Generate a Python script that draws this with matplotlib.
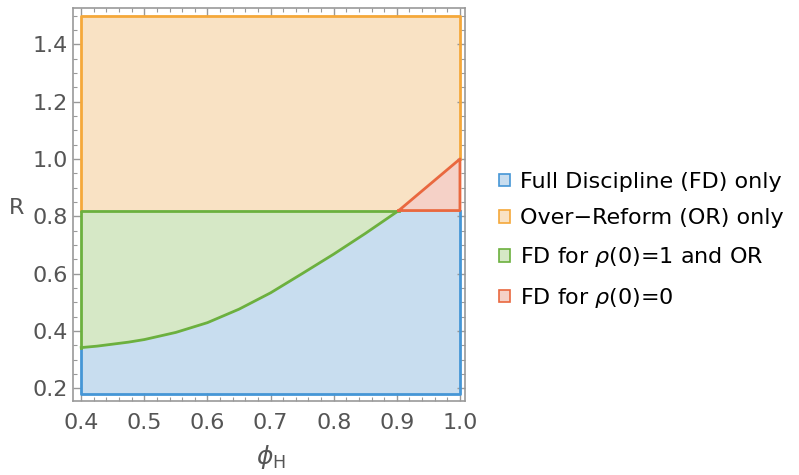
"""Region plot: Full Discipline vs Over-Reform."""
import matplotlib
matplotlib.use("Agg")
from matplotlib import pyplot as plt
from matplotlib.patches import Patch
from matplotlib.ticker import MultipleLocator

# Boundary curve between FD-only and FD/OR region
phi = [0.4, 0.425, 0.45, 0.475, 0.5, 0.55, 0.6, 0.65, 0.7, 0.75, 0.8, 0.85, 0.903]
r_curve = [0.342, 0.347, 0.354, 0.361, 0.370, 0.395, 0.429, 0.476, 0.533, 0.600,
           0.668, 0.740, 0.82]

r_min, r_max = 0.18, 1.5
r_split = 0.82
phi_max = 1.0
red_phi = [0.903, 1.0]
red_top = [0.82, 1.0]

labels = ['Full Discipline (FD) only', 'Over\u2212Reform (OR) only',
          r'FD for $\rho$(0)=1 and OR', r'FD for $\rho$(0)=0']
fills = ['#c8ddef', '#f9e2c4', '#d6e8c6', '#f5d1c7']
edges = ['#4596d6', '#f5a83a', '#6cb03e', '#e9683f']

plt.rcParams['font.family'] = ['DejaVu Sans']
plt.rcParams['mathtext.fontset'] = 'dejavusans'

fig = plt.figure(figsize=(7.99, 4.75), dpi=100)
ax = fig.add_axes([0.0914, 0.156, 0.4906, 0.828])

lw = 2.0
# Full Discipline only
bx = phi + [phi_max]
by = r_curve + [r_split]
ax.fill_between(bx, r_min, by, facecolor=fills[0], edgecolor='none')
ax.plot([phi[0], phi[0], phi_max, phi_max], [r_curve[0], r_min, r_min, r_split],
        color=edges[0], lw=lw)

# Over-Reform only
ox = [phi[0], red_phi[0], red_phi[1]]
oy = [r_split, r_split, red_top[1]]
ax.fill_between(ox, oy, r_max, facecolor=fills[1], edgecolor='none')
ax.plot([phi[0], phi[0], phi_max, phi_max], [r_split, r_max, r_max, red_top[1]],
        color=edges[1], lw=lw)

# FD for rho(0)=1 and OR
ax.fill_between(phi, r_curve, r_split, facecolor=fills[2], edgecolor='none')
ax.plot(phi, r_curve, color=edges[2], lw=lw, solid_joinstyle='round')
ax.plot([phi[0], phi[0], phi[-1]], [r_curve[0], r_split, r_split], color=edges[2], lw=lw)

# FD for rho(0)=0
ax.fill_between(red_phi, r_split, red_top, facecolor=fills[3], edgecolor='none')
ax.plot([red_phi[0], red_phi[1], red_phi[1], red_phi[0]],
        [r_split, red_top[1], r_split, r_split], color=edges[3], lw=lw)

ax.xaxis.set_major_locator(MultipleLocator(0.1))
ax.xaxis.set_minor_locator(MultipleLocator(0.02))
ax.yaxis.set_major_locator(MultipleLocator(0.2))
ax.yaxis.set_minor_locator(MultipleLocator(0.05))
ax.set_xlim(0.387, 1.008)
ax.set_ylim(0.156, 1.528)
ax.xaxis.set_major_formatter(lambda v, pos: f'{v:.1f}')
ax.tick_params(which='both', direction='in', top=True, right=True, color='#999999')
ax.tick_params(which='major', length=6, width=1, labelsize=16, labelcolor='#555555')
ax.tick_params(axis='x', which='major', pad=9)
ax.tick_params(axis='y', which='major', pad=4)
ax.tick_params(which='minor', length=3, width=0.8)
for s in ax.spines.values():
    s.set_color('#999999')
    s.set_linewidth(1.2)

ax.set_xlabel(r'$\phi_{\mathrm{H}}$', fontsize=18, color='#555555', va='center')
ax.xaxis.set_label_coords(0.505, -0.143)
ax.set_ylabel('R', fontsize=16, color='#555555', rotation=0, va='center', ha='center')
ax.yaxis.set_label_coords(-0.143, 0.49)

handles = [Patch(facecolor=f, edgecolor=e, lw=1.2) for f, e in zip(fills, edges)]
fig.legend(handles, labels, loc='center left', bbox_to_anchor=(0.624, 0.493),
           frameon=False, fontsize=16, handlelength=0.5, handleheight=0.5,
           handletextpad=0.45, labelspacing=0.75, borderpad=0, borderaxespad=0)

fig.savefig('out.png', dpi=100)
